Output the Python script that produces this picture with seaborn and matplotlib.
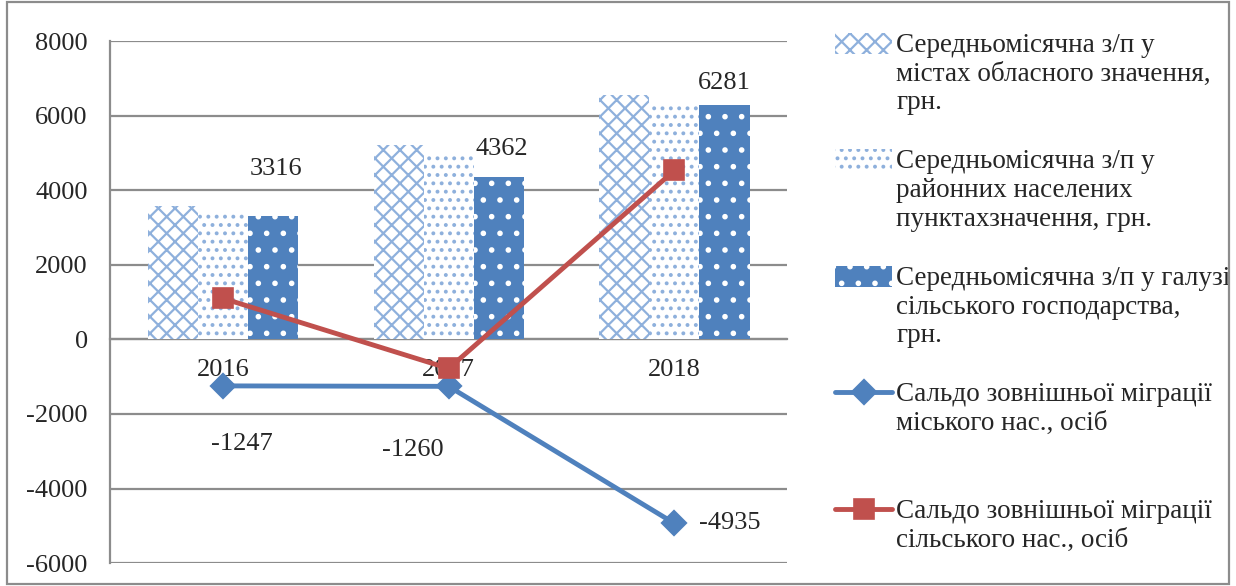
import pandas as pd
import matplotlib.pyplot as plt
import seaborn as sns
from matplotlib.patches import Rectangle

# Data
years = ['2016', '2017', '2018']
salary_city = [3580, 5200, 6560]
salary_district = [3420, 4980, 6250]
salary_agri = [3316, 4362, 6281]
migration_urban = [-1247, -1260, -4935]
migration_rural = [1100, -780, 4530]

series_names = [
    'Середньомісячна з/п у\nмістах обласного значення,\nгрн.',
    'Середньомісячна з/п у\nрайонних населених\nпунктахзначення, грн.',
    'Середньомісячна з/п у галузі\nсільського господарства,\nгрн.',
    'Сальдо зовнішньої міграції\nміського нас., осіб',
    'Сальдо зовнішньої міграції\nсільського нас., осіб',
]

df = pd.DataFrame({
    'year': years * 3,
    'value': salary_city + salary_district + salary_agri,
    'series': [series_names[0]] * 3 + [series_names[1]] * 3 + [series_names[2]] * 3,
})

sns.set_style('white')
plt.rcParams['font.family'] = ['Liberation Serif', 'DejaVu Serif']
plt.rcParams['axes.unicode_minus'] = False
plt.rcParams['hatch.linewidth'] = 1.6

blue = '#4F81BD'
red = '#C0504D'
light = '#8EB0DC'
grid = '#8C8C8C'
fs = 19
lfs = 19.5

fig = plt.figure(figsize=(12.36, 5.86), dpi=100)
ax = fig.add_axes([0.089, 0.039, 0.548, 0.891])

sns.barplot(data=df, x='year', y='value', hue='series', order=years,
            hue_order=series_names[:3], width=0.665, gap=0, legend=False, ax=ax)

styles = [('white', light, 'xx'), ('white', light, '..'), (blue, 'white', '.')]
for cont, (fc, ec, h) in zip(ax.containers, styles):
    for p in cont:
        p.set_facecolor(fc)
        p.set_edgecolor(ec)
        p.set_hatch(h)
        p.set_linewidth(0)

n0 = len(ax.lines)
sns.pointplot(x=years, y=migration_urban, color=blue, marker='D', markersize=11,
              linewidth=3.5, ax=ax)
urban_line = [l for l in ax.lines[n0:] if l.get_marker() not in (None, 'None', '')][0]
n1 = len(ax.lines)
sns.pointplot(x=years, y=migration_rural, color=red, marker='s', markersize=13,
              linewidth=3.5, ax=ax)
rural_line = [l for l in ax.lines[n1:] if l.get_marker() not in (None, 'None', '')][0]

# value labels
agri_offsets = [(2, 26), (2, 12), (0, 8)]
for i, (v, off) in enumerate(zip(salary_agri, agri_offsets)):
    ax.annotate(str(v), (i + 0.222, v), xytext=off, textcoords='offset points',
                ha='center', va='bottom', fontsize=fs)
urban_offsets = [(14, -42), (-26, -46), (18, 0)]
for i, (v, off) in enumerate(zip(migration_urban, urban_offsets)):
    ax.annotate(str(v), (i, v), xytext=off, textcoords='offset points',
                ha='center' if i < 2 else 'left', va='center', fontsize=fs)

ax.set_ylim(-6000, 8000)
ax.set_xlim(-0.5, 2.5)
ax.set_yticks(range(-6000, 8001, 2000))
ax.yaxis.grid(True, color=grid, linewidth=1.6)
ax.set_axisbelow(True)
ax.set_xlabel('')
ax.set_ylabel('')

for s in ['top', 'right']:
    ax.spines[s].set_visible(False)
ax.spines['left'].set_color(grid)
ax.spines['left'].set_linewidth(1.6)
ax.spines['bottom'].set_position(('data', 0))
ax.spines['bottom'].set_color(grid)
ax.spines['bottom'].set_linewidth(1.6)
ax.spines['bottom'].set_zorder(0.5)

ax.tick_params(axis='y', length=6, color=grid, width=1.6, labelsize=fs, pad=10)
ax.tick_params(axis='x', which='major', length=0, labelsize=fs, pad=14)
ax.set_xticks([0.5, 1.5], minor=True)
ax.tick_params(axis='x', which='minor', length=6, color=grid, width=1.6)

# Excel gives every legend entry the same slot; pad the two-line labels
legend_labels = [s if s.count('\n') == 2 else s + '\n ' for s in series_names]
handles = list(ax.containers[:3]) + [urban_line, rural_line]
leg = ax.legend(handles, legend_labels, loc='upper left', bbox_to_anchor=(0.665, 0.967),
                bbox_transform=fig.transFigure, frameon=False, fontsize=lfs,
                handlelength=2.1, handleheight=0.8, handletextpad=0.15,
                labelspacing=1.25, borderpad=0)
for col in leg._legend_handle_box.get_children():
    for row in col.get_children():
        row.align = 'top'

fig.patches.append(Rectangle((0.006, 0.004), 0.988, 0.992, transform=fig.transFigure,
                             fill=False, edgecolor=grid, linewidth=1.6))

plt.savefig('out.png', dpi=100)
